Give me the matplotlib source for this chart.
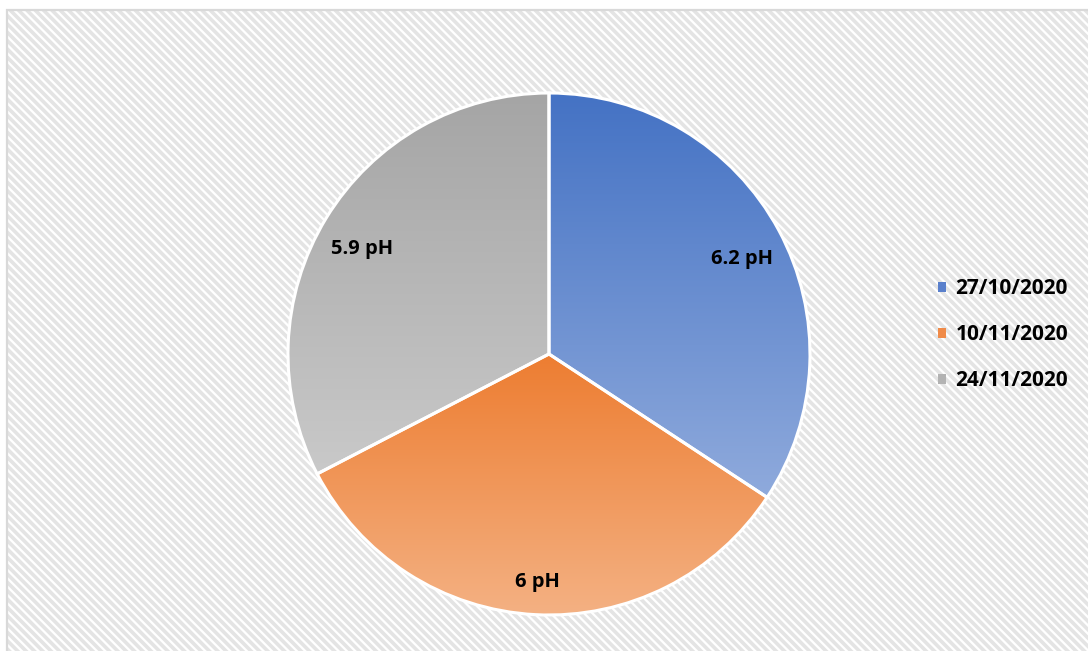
import matplotlib.pyplot as plt
import numpy as np
from matplotlib.patches import Rectangle, Patch
from matplotlib.colors import LinearSegmentedColormap

# datos
fechas = ['27/10/2020', '10/11/2020', '24/11/2020']
ph = [6.2, 6, 5.9]
etiquetas = ['6.2 pH', '6 pH', '5.9 pH']

# colores (arriba -> abajo del degradado)
grad_top = ['#4472C4', '#ED7D31', '#A5A5A5']
grad_bot = ['#8FAADC', '#F4B183', '#C9C9C9']
leg_col = ['#5A80CC', '#F08B49', '#B3B3B3']

plt.rcParams['font.family'] = ['Open Sans', 'DejaVu Sans']
plt.rcParams['hatch.linewidth'] = 2.6

W, H = 1088, 651
fig = plt.figure(figsize=(W / 100, H / 100), dpi=100)
fig.patch.set_facecolor('white')

# fondo rayado + borde
fondo = Rectangle((7 / W, 0), 1, (H - 10) / H, transform=fig.transFigure,
                  facecolor='white', edgecolor='#E4E4E4', hatch='\\\\\\\\',
                  linewidth=0, zorder=0)
fig.add_artist(fondo)
borde = Rectangle((7 / W, -0.05), 1, (H - 10) / H + 0.05, transform=fig.transFigure,
                  facecolor='none', edgecolor='#D9D9D9', linewidth=1.6, zorder=1)
fig.add_artist(borde)

ax = fig.add_axes([0, 0, 1, 1])
ax.set_facecolor('none')

cx, cy, r = 549, H - 354, 261
wedges, _ = ax.pie(ph, startangle=90, counterclock=False, center=(cx, cy), radius=r,
                   colors=['none'] * 3,
                   wedgeprops=dict(edgecolor='white', linewidth=2.2))

# degradado vertical dentro de cada sector
for w, c0, c1 in zip(wedges, grad_top, grad_bot):
    w.set_zorder(3)
    bb = w.get_path().get_extents()
    cmap = LinearSegmentedColormap.from_list('g', [c1, c0])
    grad = np.linspace(0, 1, 256).reshape(-1, 1)
    im = ax.imshow(grad, cmap=cmap, origin='lower', aspect='auto',
                   extent=[bb.x0, bb.x1, bb.y0, bb.y1], zorder=2)
    im.set_clip_path(w)

# etiquetas de datos
for w, txt in zip(wedges, etiquetas):
    th = np.deg2rad((w.theta1 + w.theta2) / 2)
    d = 0.84 * r
    ax.text(cx + d * np.cos(th), cy + d * np.sin(th) - 9, txt, ha='center', va='center',
            fontsize=14.5, fontweight='bold', color='black', zorder=4)

ax.set_xlim(0, W)
ax.set_ylim(0, H)
ax.set_aspect('auto')
ax.axis('off')

handles = [Patch(facecolor=c, edgecolor='none') for c in leg_col]
leg = fig.legend(handles, fechas, loc='center left', bbox_to_anchor=(919 / W, 1 - 335 / H),
                 frameon=False, prop=dict(size=15, weight='bold'),
                 handlelength=0.4, handleheight=0.4, handletextpad=0.45, labelspacing=1.2)

fig.savefig('out.png', dpi=100)
